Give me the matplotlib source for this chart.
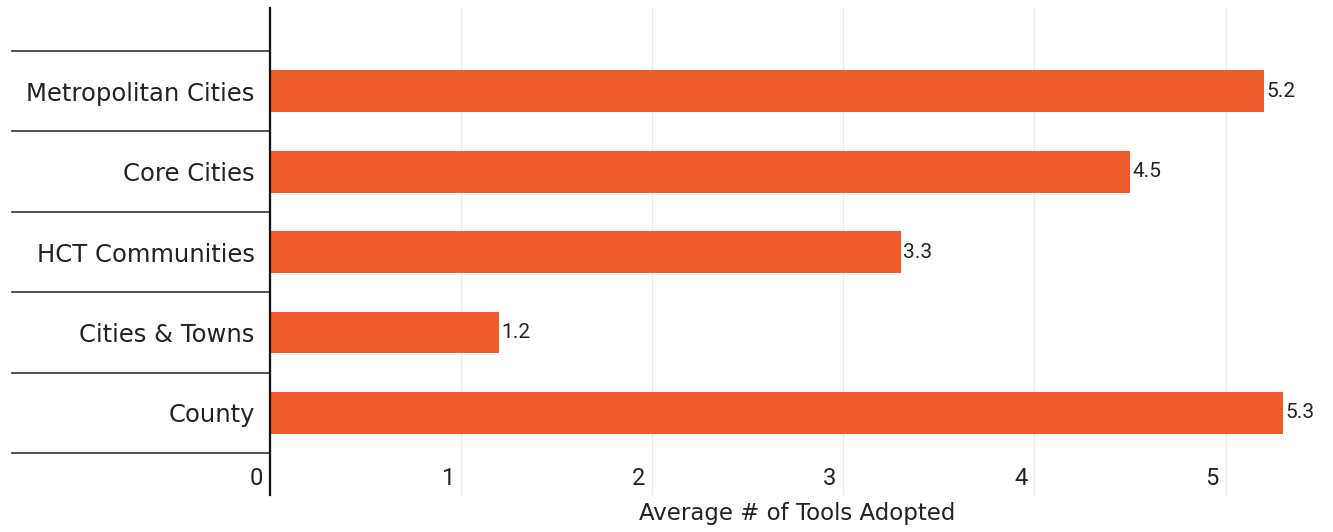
import matplotlib.pyplot as plt
import matplotlib.transforms as mtransforms

categories = ["Metropolitan Cities", "Core Cities", "HCT Communities", "Cities & Towns", "County"]
values = [5.2, 4.5, 3.3, 1.2, 5.3]
x_ticks = [0, 1, 2, 3, 4, 5]

bar_color = "#EE5A2A"
texte = "#222222"
plt.rcParams['font.family'] = ['DejaVu Sans']

fig = plt.figure(figsize=(13.33, 5.32), dpi=100)
ax = fig.add_axes([270 / 1333, 1 - 495 / 532, 1055 / 1333, 487 / 532])

pos = list(range(len(categories)))
ax.barh(pos, values, height=0.52, color=bar_color, zorder=3)

# etiquettes de valeur au bout des barres
for p, v in zip(pos, values):
    ax.text(v + 0.012, p, f"{v:.1f}", va="center", ha="left", fontsize=15,
            color=texte, family=["Roboto", "DejaVu Sans"])

ax.set_xlim(0, 5.52)
ax.set_ylim(5.02, -1.035)

ax.set_xticks(x_ticks)
ax.xaxis.grid(True, color="#ececec", linewidth=1, zorder=0)
ax.tick_params(axis="x", length=0, labelbottom=False)

# graduations de l'axe x, placées à gauche de chaque ligne de grille
decal = mtransforms.ScaledTranslation(-7 / 100, 0, fig.dpi_scale_trans)
for t in x_ticks:
    ax.text(t, 4.81, str(t), ha="right", va="center", fontsize=17,
            color=texte, family=["Roboto", "DejaVu Sans"],
            transform=ax.transData + decal)

ax.set_yticks(pos)
ax.set_yticklabels(categories, fontsize=17.5, color=texte)
ax.tick_params(axis="y", length=0, pad=11)

# séparateurs entre les catégories, à gauche de l'axe
sep_trans = mtransforms.blended_transform_factory(ax.transAxes, ax.transData)
for b in [p - 0.5 for p in pos] + [len(pos) - 0.5]:
    ax.plot([-0.2445, 0], [b, b], color="#333333", linewidth=1.2,
            transform=sep_trans, clip_on=False)

for s in ["top", "right", "bottom"]:
    ax.spines[s].set_visible(False)
ax.spines["left"].set_color("#111111")
ax.spines["left"].set_linewidth(1.6)
ax.spines["left"].set_zorder(4)

ax.set_xlabel("Average # of Tools Adopted", fontsize=16.5, color=texte, labelpad=5)

fig.savefig("out.png", dpi=100)
